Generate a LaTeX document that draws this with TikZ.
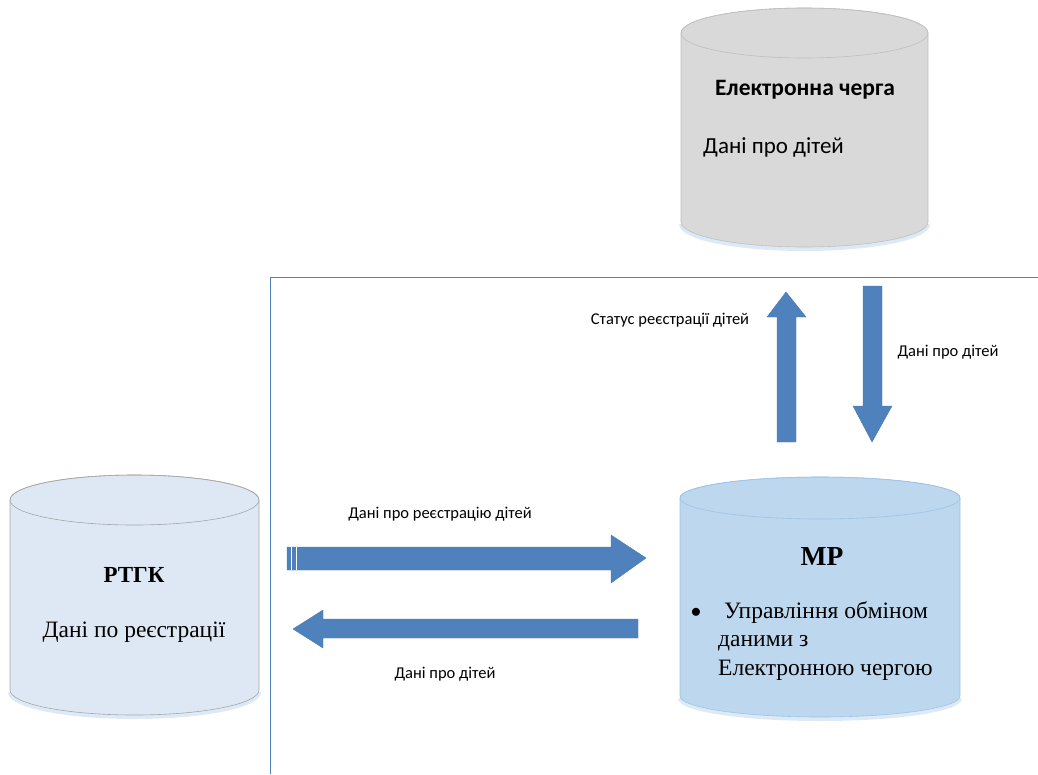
\documentclass[tikz,border=0pt]{standalone}
\usepackage{fontspec}
\setmainfont{Liberation Serif}
\newfontfamily\carlito{Carlito}
\definecolor{framec}{HTML}{4F81BD}
\definecolor{arrfill}{HTML}{4F81BD}
\definecolor{arrdraw}{HTML}{4A7AB3}
\definecolor{grayfill}{HTML}{D9D9D9}
\definecolor{grayline}{HTML}{BFBFBF}
\definecolor{rtgkfill}{HTML}{DEE8F4}
\definecolor{rtgkline}{HTML}{A6A6A6}
\definecolor{mpfill}{HTML}{BDD7EE}
\definecolor{mpline}{HTML}{9DC3E6}
\definecolor{shadowc}{HTML}{9DC3E6}
\newcommand\mycyl[7]{% x1, x2, ytop, ybot, ry, fill, line
  \pgfmathsetmacro\rx{(#2-#1)/2}
  \pgfmathsetmacro\cx{(#2+#1)/2}
  \draw[shadowc, line width=4pt, opacity=0.35] (#1,#4+2) arc[start angle=180,end angle=0,x radius=\rx,y radius=#5];
  \draw[fill=#6, draw=#7, line width=0.6pt] (#1,#3) -- (#1,#4) arc[start angle=180,end angle=0,x radius=\rx,y radius=#5] -- (#2,#3) arc[start angle=0,end angle=-180,x radius=\rx,y radius=#5] -- cycle;
  \draw[draw=#7, line width=0.6pt] (\cx,#3) ellipse[x radius=\rx, y radius=#5];
}
\tikzset{
  lbl/.style={font=\carlito\fontsize{16.5}{19}\selectfont, inner sep=0pt},
  blockarrow/.style={fill=arrfill, draw=arrdraw, line width=0.4pt},
  frameline/.style={draw=framec, line width=1pt}
}
\begin{document}
\begin{tikzpicture}[x=1pt,y=-1pt]
\useasboundingbox (0,0) rectangle (1038,774);
% frame lines
\coordinate (fv1) at (270,277);
\coordinate (fv2) at (270,774);
\coordinate (fh2) at (1038,277);
\draw[frameline] (fv2) -- (fv1) -- (fh2);
% cylinders
\mycyl{681}{928}{33}{222}{25}{grayfill}{grayline}
\mycyl{10}{259}{500}{690}{25}{rtgkfill}{rtgkline}
\mycyl{680}{960}{498}{696}{21}{mpfill}{mpline}
% texts in cylinders
\node[font=\carlito\bfseries\fontsize{23.5}{28}\selectfont, inner sep=0pt] (eqtitle) at (805,90) {Електронна черга};
\node[font=\carlito\fontsize{23}{28}\selectfont, inner sep=0pt, anchor=west] (eqdata) at (703,147) {Дані про дітей};
\node[font=\bfseries\fontsize{23}{28}\selectfont, inner sep=0pt] (rtgk) at (134,575) {РТГК};
\node[font=\fontsize{23.5}{28}\selectfont, inner sep=0pt] (rtgkdata) at (134,632) {Дані по реєстрації};
\node[font=\bfseries\fontsize{27.5}{32}\selectfont, inner sep=0pt] (mp) at (822,556) {МР};
\node[font=\fontsize{22}{26}\selectfont, inner sep=0pt] (bul) at (696,613) {$\bullet$};
\node[font=\fontsize{23.5}{28.5}\selectfont, inner sep=0pt, anchor=west, align=left] (mptext) at (718,641) {\ Управління обміном\\даними з\\Електронною чергою};
% block arrows
\coordinate (ra) at (287,558);
\coordinate (rb) at (646,558);
\draw[blockarrow] (287,547) -- (611,547) -- (611,535) -- (rb) -- (611,583) -- (611,570) -- (287,570) -- cycle;
\draw[white, line width=0.8pt] (291,547) -- (291,570) (296,547) -- (296,570);
\coordinate (la) at (638,629);
\coordinate (lb) at (293,629);
\draw[blockarrow] (638,619) -- (323,619) -- (323,610) -- (lb) -- (323,648) -- (323,638) -- (638,638) -- cycle;
\coordinate (ua) at (786,442);
\coordinate (ub) at (786,292);
\draw[blockarrow] (777,442) -- (777,317) -- (767,317) -- (ub) -- (806,317) -- (796,317) -- (796,442) -- cycle;
\coordinate (da) at (872,286);
\coordinate (db) at (872,442);
\draw[blockarrow] (863,286) -- (863,406) -- (853,406) -- (db) -- (892,406) -- (882,406) -- (882,286) -- cycle;
% labels
\node[lbl] (l1) at (440,514) {Дані про реєстрацію дітей};
\node[lbl] (l2) at (445,674) {Дані про дітей};
\node[lbl] (l3) at (670,320) {Статус реєстрації дітей};
\node[lbl] (l4) at (948,352) {Дані про дітей};
\end{tikzpicture}
\end{document}
